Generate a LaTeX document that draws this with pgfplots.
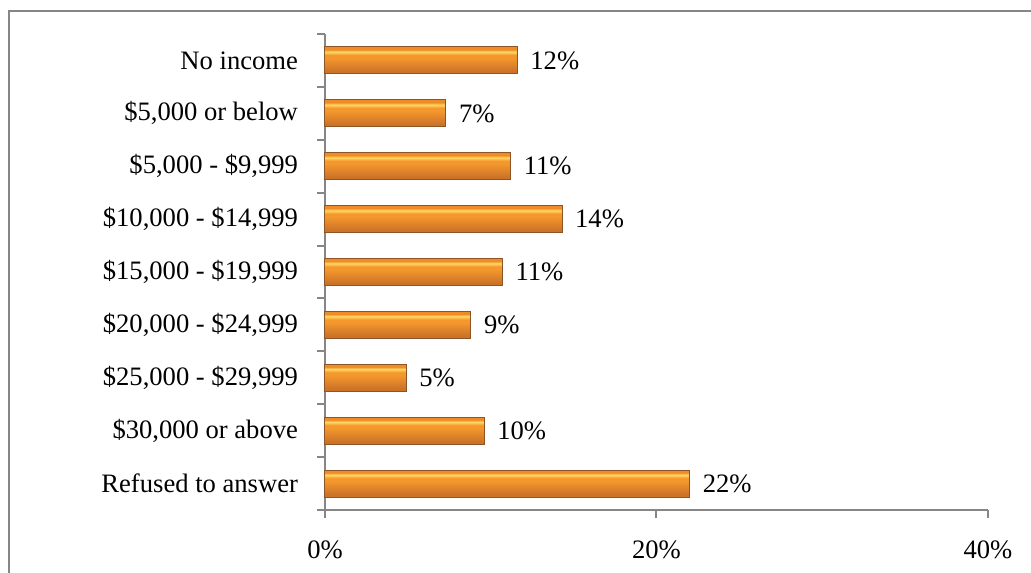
\documentclass[border=0pt]{standalone}
\usepackage{fontspec}
\setmainfont{Liberation Serif}
\usepackage{pgfplots}
\pgfplotsset{compat=1.18}
\definecolor{axisgray}{RGB}{134,134,134}
\definecolor{barlight}{RGB}{255,218,100}
\definecolor{barmid}{RGB}{244,152,45}
\definecolor{bardark}{RGB}{205,115,40}
\definecolor{bartop}{RGB}{240,140,40}
\definecolor{baredge}{RGB}{140,85,40}
\pgfdeclareverticalshading{barshade}{100bp}{
  color(0bp)=(bardark); color(30bp)=(bardark); color(55bp)=(barmid);
  color(60bp)=(barmid); color(66bp)=(barlight); color(70bp)=(bartop); color(100bp)=(bartop)}

\begin{document}
\begin{tikzpicture}[x=1pt,y=1pt]
\useasboundingbox (-162.5,-31) rectangle (353,255);
% outer chart frame
\draw[axisgray, line width=1pt] (-158,-40) -- (-158,249.5) -- (360,249.5);
\begin{axis}[
    at={(0,0)}, anchor=south west,
    scale only axis,
    width=331.5pt, height=238pt,
    xmin=0, xmax=40,
    ymin=-0.5, ymax=8.5,
    axis x line=bottom, axis y line=left,
    axis line style={axisgray, line width=1pt, -},
    tick align=outside,
    major tick length=4pt,
    xtick={0,20,40},
    xticklabel={\pgfmathprintnumber{\tick}\%},
    xtick style={axisgray, line width=1pt},
    xticklabel style={yshift=-8pt},
    ytick={0,...,8},
    ytick style={draw=none},
    yticklabels={{Refused to answer}, {\$30,000 or above}, {\$25,000 - \$29,999},
        {\$20,000 - \$24,999}, {\$15,000 - \$19,999}, {\$10,000 - \$14,999},
        {\$5,000 - \$9,999}, {\$5,000 or below}, {No income}},
    yticklabel style={xshift=-6pt},
    extra y ticks={-0.5,0.5,...,8.5},
    extra y tick labels={},
    extra y tick style={ytick style={draw=axisgray, line width=1pt}},
    tick label style={font=\fontsize{13.3}{16}\selectfont},
    /pgf/number format/assume math mode=true,
    clip=false,
    incomebar/.style={xbar, bar width=13.5pt, bar shift=0pt,
        draw=baredge, line width=0.5pt, shade, shading=barshade,
        mark=none, point meta=x,
        nodes near coords={\pgfmathprintnumber[fixed,precision=0]{\pgfplotspointmeta}\%},
        every node near coord/.append style={font=\fontsize{13.3}{16}\selectfont,
            text=black, anchor=west, xshift=3pt}},
]
% one bar per series so each bar gets its own shading
\addplot[incomebar] coordinates {(22.0,0)}; % Refused to answer
\addplot[incomebar] coordinates {(9.6,1)};  % $30,000 or above
\addplot[incomebar] coordinates {(4.9,2)};  % $25,000 - $29,999
\addplot[incomebar] coordinates {(8.8,3)};  % $20,000 - $24,999
\addplot[incomebar] coordinates {(10.7,4)}; % $15,000 - $19,999
\addplot[incomebar] coordinates {(14.3,5)}; % $10,000 - $14,999
\addplot[incomebar] coordinates {(11.2,6)}; % $5,000 - $9,999
\addplot[incomebar] coordinates {(7.3,7)};  % $5,000 or below
\addplot[incomebar] coordinates {(11.6,8)}; % No income
\end{axis}
\end{tikzpicture}
\end{document}
